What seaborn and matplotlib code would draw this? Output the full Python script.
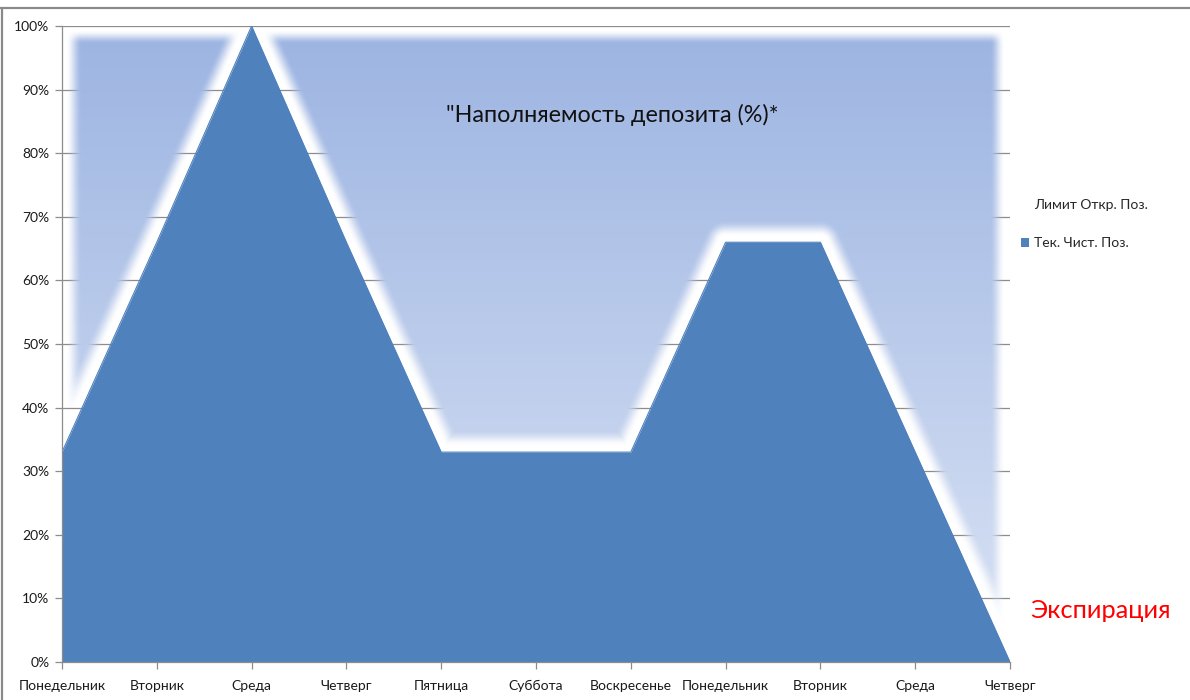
import numpy as np
import matplotlib
matplotlib.use("Agg")
import matplotlib.pyplot as plt
from matplotlib.patches import Patch
from matplotlib.lines import Line2D
import seaborn as sns

# ---- data ----
days = ["Понедельник", "Вторник", "Среда", "Четверг", "Пятница", "Суббота",
        "Воскресенье", "Понедельник", "Вторник", "Среда", "Четверг"]
net_position = [33, 66, 100, 66, 33, 33, 33, 66, 66, 33, 0]   # Тек. Чист. Поз. (%)
limit_position = [100] * len(days)                             # Лимит Откр. Поз. (%)
y_ticks = [0, 10, 20, 30, 40, 50, 60, 70, 80, 90, 100]
title_text = "\"Наполняемость депозита (%)*"
series_names = ["Лимит Откр. Поз.", "Тек. Чист. Поз."]
expiry_text = "Экспирация"

sns.set_theme(style="white")
plt.rcParams['font.family'] = ['Lato', 'Open Sans', 'DejaVu Sans']

FRONT = "#4f81bd"
GRID = "#8c8c8c"

fig = plt.figure(figsize=(11.9, 7.0), dpi=100)
L, R, T, B = 62, 1010, 26, 662
ax = fig.add_axes([L / 1190, 1 - B / 700, (R - L) / 1190, (B - T) / 700])

x = np.arange(len(days))
xmax = x[-1]
ymax = max(limit_position)

# ---- background series: gradient fill with soft edges and a glow gap around the front series
W, H = R - L, B - T
xs = np.arange(W) + 0.5
ys = np.arange(H) + 0.5
XX, YY = np.meshgrid(xs, ys)
px = x / xmax * W
py = (ymax - np.array(net_position)) / ymax * H
d = np.full(XX.shape, np.inf)
for i in range(len(px) - 1):
    ax0, ay0, ax1, ay1 = px[i], py[i], px[i + 1], py[i + 1]
    dx, dy = ax1 - ax0, ay1 - ay0
    t = np.clip(((XX - ax0) * dx + (YY - ay0) * dy) / (dx * dx + dy * dy), 0, 1)
    dd = np.hypot(XX - (ax0 + t * dx), YY - (ay0 + t * dy))
    d = np.minimum(d, dd)
curve_y = np.interp(xs, px, py)
d[YY > curve_y[None, :]] = 0


def smooth(t):
    t = np.clip(t, 0, 1)
    return t * t * (3 - 2 * t)


lim_py = (ymax - np.array(limit_position)) / ymax * H
lim_top = np.interp(xs, px, lim_py)
a = smooth((d - 6) / 16)
a *= smooth((XX - 4) / 16) * smooth((W - XX - 5) / 15) * smooth((YY - lim_top[None, :] - 4) / 14)

c_top = np.array([156, 180, 226]) / 255
c_bot = np.array([218, 227, 244]) / 255
frac = (YY / H)[..., None]
rgb = c_top * (1 - frac) + c_bot * frac
img = np.dstack([rgb, a])
ax.imshow(img, extent=(0, xmax, 0, ymax), aspect='auto', interpolation='bilinear', zorder=1)

# ---- front series
ax.fill_between(x, 0, net_position, color=FRONT, linewidth=0, zorder=3)
sns.lineplot(x=x, y=net_position, ax=ax, color=FRONT, linewidth=0.8, zorder=3.5, legend=False)

# ---- axes styling
ax.set_xlim(0, xmax)
ax.set_ylim(0, ymax)
ax.set_yticks(y_ticks)
ax.set_yticklabels([f"{v}%" for v in y_ticks])
ax.set_xticks(x)
ax.set_xticklabels(days)
ax.yaxis.grid(True, color=GRID, linewidth=0.9, zorder=0.5)
ax.set_axisbelow(True)
for s in ["top", "right"]:
    ax.spines[s].set_visible(False)
for s in ["left", "bottom"]:
    ax.spines[s].set_color(GRID)
    ax.spines[s].set_linewidth(0.9)
    ax.spines[s].set_zorder(4)
ax.tick_params(axis='both', which='both', length=5, width=0.9, color=GRID,
               labelsize=10, labelcolor="#1a1a1a", pad=4, left=True, bottom=True)
ax.tick_params(axis='x', pad=8)
ax.set_xlabel("")
ax.set_ylabel("")

ax.text(0.58, 0.86, title_text, transform=ax.transAxes, ha='center', va='center',
        fontsize=16.8, color="#111111", zorder=5)

handles = [Patch(facecolor='none', edgecolor='none', label=series_names[0]),
           Patch(facecolor=FRONT, edgecolor='none', label=series_names[1])]
fig.legend(handles=handles, loc='upper left', bbox_to_anchor=(1021 / 1190, 1 - 199 / 700),
           frameon=False, fontsize=10, handlelength=0.55, handleheight=0.55,
           handletextpad=0.4, labelspacing=1.9, borderpad=0, borderaxespad=0)

fig.text(1030 / 1190, 1 - 610 / 700, expiry_text, ha='left', va='center',
         fontsize=18.3, color="#ff0000")

# chart frame lines
fig.add_artist(Line2D([0, 1], [1 - 7.5 / 700] * 2, transform=fig.transFigure, color="#8a8a8a", linewidth=1.6))
fig.add_artist(Line2D([1.5 / 1190] * 2, [0, 1 - 7.5 / 700], transform=fig.transFigure, color="#8a8a8a", linewidth=1.6))

fig.savefig("out.png", dpi=100)
